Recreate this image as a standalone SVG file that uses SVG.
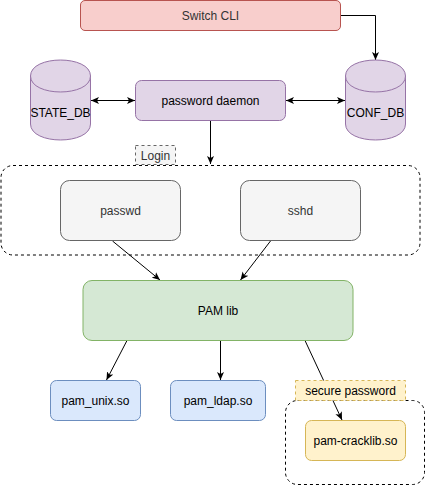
<svg xmlns="http://www.w3.org/2000/svg" width="426" height="486" viewBox="0 0 426 486">
  <defs>
    <style>
      text { font-family: "Liberation Sans", Arial, sans-serif; font-size: 12px; text-anchor: middle; fill: #000000; }
      .muted { fill: #333333; }
      .edge { fill: none; stroke: #000000; stroke-width: 1; }
      .red { fill: #f8cecc; stroke: #b85450; }
      .purple { fill: #e1d5e7; stroke: #9673a6; }
      .gray { fill: #f5f5f5; stroke: #666666; }
      .green { fill: #d5e8d4; stroke: #82b366; }
      .blue { fill: #dae8fc; stroke: #6c8ebf; }
      .yellow { fill: #fff2cc; stroke: #d6b656; }
      .frame { fill: none; stroke: #000000; stroke-dasharray: 3 3; }
      .tag-gray { fill: #f5f5f5; stroke: #666666; stroke-dasharray: 3 3; }
      .tag-yellow { fill: #fff2cc; stroke: #d6b656; stroke-dasharray: 3 3; }
    </style>
    <marker id="arrow" viewBox="0 0 8 8" markerWidth="8" markerHeight="8" refX="8" refY="4" orient="auto-start-reverse" markerUnits="userSpaceOnUse">
      <path d="M0,0.5 L8,4 L0,7.5 L2,4 Z" fill="#000000"/>
    </marker>
  </defs>

  <rect width="426" height="486" fill="#ffffff"/>

  <!-- connectors -->
  <g id="connectors">
    <path class="edge" d="M340.5,15.5 H375.5 V60" marker-end="url(#arrow)"/>
    <path class="edge" d="M91,100.5 H135" marker-start="url(#arrow)" marker-end="url(#arrow)"/>
    <path class="edge" d="M286,100.5 H345" marker-start="url(#arrow)" marker-end="url(#arrow)"/>
    <path class="edge" d="M210.5,120.5 V164" marker-end="url(#arrow)"/>
    <path class="edge" d="M112.5,241 L160,280" marker-end="url(#arrow)"/>
    <path class="edge" d="M270.5,241 L240.5,280" marker-end="url(#arrow)"/>
    <path class="edge" d="M127,340.5 L106.5,380" marker-end="url(#arrow)"/>
    <path class="edge" d="M220.5,340.5 V380" marker-end="url(#arrow)"/>
    <path class="edge" d="M305,340.5 L342,420" marker-end="url(#arrow)"/>
  </g>

  <!-- groups (dashed containers) -->
  <g id="login-group">
    <rect class="frame" x="1" y="165.5" width="419" height="89.5" rx="12" ry="12"/>
  </g>
  <g id="login-label">
    <rect class="tag-gray" x="135.5" y="145.5" width="40" height="19"/>
    <text class="muted" x="155.5" y="159.5">Login</text>
  </g>
  <g id="secure-group">
    <rect class="frame" x="285.5" y="400.5" width="139" height="84" rx="12" ry="12"/>
  </g>
  <g id="secure-label">
    <rect class="tag-yellow" x="295.5" y="380.5" width="110" height="20"/>
    <text x="350.5" y="394.5">secure password</text>
  </g>

  <!-- nodes -->
  <g id="switch-cli">
    <rect class="red" x="80.5" y="0.5" width="260" height="30" rx="4.5" ry="4.5"/>
    <text class="muted" x="210.5" y="19.5">Switch CLI</text>
  </g>

  <g id="state-db">
    <path class="purple" d="M30.5,76 C30.5,54.7 90.5,54.7 90.5,76 L90.5,124 C90.5,145.3 30.5,145.3 30.5,124 Z"/>
    <path class="purple" fill="none" d="M30.5,76 C30.5,97.3 90.5,97.3 90.5,76"/>
    <text x="60.5" y="117">STATE_DB</text>
  </g>

  <g id="conf-db">
    <path class="purple" d="M345.5,76 C345.5,54.7 405.5,54.7 405.5,76 L405.5,124 C405.5,145.3 345.5,145.3 345.5,124 Z"/>
    <path class="purple" fill="none" d="M345.5,76 C345.5,97.3 405.5,97.3 405.5,76"/>
    <text x="375.5" y="117">CONF_DB</text>
  </g>

  <g id="password-daemon">
    <rect class="purple" x="135.5" y="80.5" width="150" height="40" rx="6" ry="6"/>
    <text x="210.5" y="104.5">password daemon</text>
  </g>

  <g id="passwd">
    <rect class="gray" x="60.5" y="180.5" width="120" height="60" rx="9" ry="9"/>
    <text class="muted" x="120.5" y="214.5">passwd</text>
  </g>

  <g id="sshd">
    <rect class="gray" x="240.5" y="180.5" width="120" height="60" rx="9" ry="9"/>
    <text class="muted" x="300.5" y="214.5">sshd</text>
  </g>

  <g id="pam-lib">
    <rect class="green" x="83" y="280.5" width="270" height="60" rx="9" ry="9"/>
    <text x="218" y="314.5">PAM lib</text>
  </g>

  <g id="pam-unix">
    <rect class="blue" x="50.5" y="380.5" width="90" height="40" rx="6" ry="6"/>
    <text x="95.5" y="404.5">pam_unix.so</text>
  </g>

  <g id="pam-ldap">
    <rect class="blue" x="170.5" y="380.5" width="95" height="40" rx="6" ry="6"/>
    <text x="218" y="404.5">pam_ldap.so</text>
  </g>

  <g id="pam-cracklib">
    <rect class="yellow" x="305.5" y="420.5" width="100" height="40" rx="6" ry="6"/>
    <text x="355.5" y="444.5">pam-cracklib.so</text>
  </g>
</svg>
